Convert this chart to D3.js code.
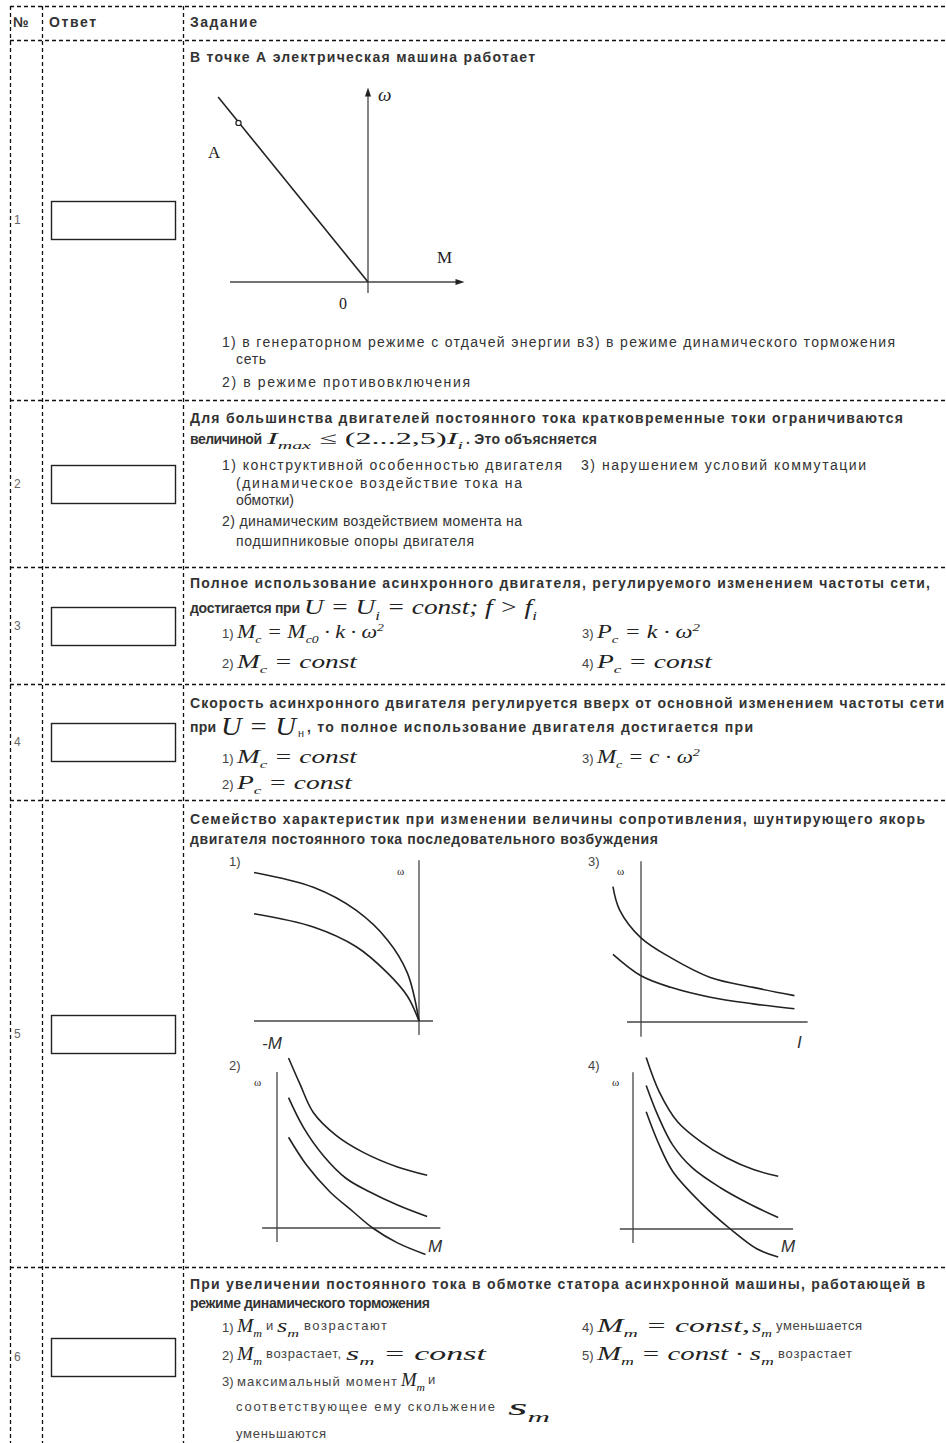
<!DOCTYPE html>
<html>
<head>
<meta charset="utf-8">
<script src="https://cdn.jsdelivr.net/npm/d3@7"></script>
<style>
body{margin:0;background:#fff;}
.t{font-family:"Liberation Sans",Arial,sans-serif;fill:#333;white-space:pre;}
.b{font-weight:bold;font-size:14px;}
.o{font-size:14px;}
.n{font-size:13px;fill:#444;}
.s{font-size:11px;}
.num{font-size:12px;fill:#666;}
.m{font-family:"Liberation Serif","Times New Roman",serif;font-style:italic;fill:#222;white-space:pre;}
.dash{stroke:#111;stroke-width:1.3;stroke-dasharray:4,3;fill:none;}
.ax{stroke:#444;stroke-width:1.3;fill:none;}
.cv{stroke:#222;stroke-width:1.6;fill:none;}
</style>
</head>
<body>
<svg id="c" width="946" height="1443"></svg>
<script>
var W = 946, H = 1443;

// table
var rowNums = [1, 2, 3, 4, 5, 6];
var rowLines = [40, 400, 567, 684, 800, 1267, 1447]; // bottom edge of header and each row
var colLines = [10.5, 42.5, 183.5];

// question 1: straight characteristic through the origin, point A on it
var q1Line = [[-8.1, 10], [0, 0]];
var q1A = [[-7.0, 8.6]];

// question 5: four families of characteristics (horizontal: M or I, vertical: omega)
var p1Curves = [
  [[-10, 9.0], [-6.4, 8.1], [-3.8, 6.7], [-1.9, 4.9], [-0.7, 2.9], [0, 0]],
  [[-10, 6.5], [-6.4, 5.7], [-3.8, 4.5], [-1.9, 2.9], [-0.7, 1.5], [0, 0]]
];
var p3Curves = [
  [[-1.7, 8.2], [-1.3, 6.8], [0, 5.1], [1.8, 3.9], [4.2, 2.7], [6.8, 2.1], [9.3, 1.6]],
  [[-1.7, 4.1], [0, 2.8], [1.8, 2.1], [4.2, 1.5], [6.8, 1.1], [9.3, 0.8]]
];
var p2Curves = [
  [[0.7, 10.3], [1.4, 8.7], [2.2, 7.0], [3.6, 5.6], [5.2, 4.6], [7.3, 3.7], [9.1, 3.2]],
  [[0.7, 7.9], [1.6, 6.1], [2.8, 4.4], [4.2, 3.0], [5.6, 2.2], [7.3, 1.4], [9.1, 0.7]],
  [[0.7, 5.5], [1.8, 3.8], [3.2, 2.2], [4.6, 1.0], [5.8, 0], [7.3, -0.9], [9.0, -1.6]]
];
var p4Curves = [
  [[0.8, 10.4], [1.6, 8.3], [2.7, 6.5], [4.1, 5.3], [5.7, 4.3], [7.3, 3.6], [8.8, 3.2]],
  [[0.8, 8.7], [1.5, 6.9], [2.4, 5.1], [3.6, 3.7], [5.3, 2.5], [7.1, 1.5], [8.8, 0.7]],
  [[0.8, 7.1], [1.5, 5.3], [2.4, 3.5], [4.1, 1.6], [5.9, 0], [7.5, -1.2], [8.8, -1.7]]
];

var svg = d3.select("#c");

// dashed grid
colLines.forEach(function(x){
  svg.append("line").attr("class","dash").attr("x1",x).attr("x2",x).attr("y1",6).attr("y2",H);
});
[6].concat(rowLines.slice(0, 6)).forEach(function(y){
  svg.append("line").attr("class","dash").attr("x1",10).attr("x2",W).attr("y1",y+0.5).attr("y2",y+0.5);
});

// row numbers + answer boxes
rowNums.forEach(function(n, i){
  var cy = (rowLines[i] + rowLines[i+1]) / 2;
  svg.append("text").attr("class","t num").attr("x",14).attr("y",cy+4).text(n);
  svg.append("rect").attr("x",51.5).attr("y",Math.round(cy-19)+0.5).attr("width",124).attr("height",38)
    .attr("fill","#fff").attr("stroke","#222").attr("stroke-width",1.4);
});

// math text: _{sub} ^{sup} [upright]
function mathText(x, y, src, size, w) {
  var g = svg.append("g").attr("transform","translate("+x+","+y+")");
  var t = g.append("text").attr("class","m").attr("font-size",size);
  var re = /([_^])\{([^}]*)\}|\[([^\]]*)\]|([^_^\[]+)/g, m, cur = 0;
  while ((m = re.exec(src))) {
    if (m[1]) {
      var d = m[1] === "_" ? size*0.28 : -size*0.42;
      t.append("tspan").attr("dy",d-cur).attr("font-size",size*0.62).text(m[2]);
      cur = d;
    } else {
      var ts = t.append("tspan").attr("dy",-cur).text(m[3] || m[4]);
      if (m[3]) ts.style("font-style","normal");
      cur = 0;
    }
  }
  if (w) {
    var bw = t.node().getComputedTextLength();
    g.attr("transform","translate("+x+","+y+") scale("+(w/bw)+",1)");
  }
}

function put(s) {
  var kind = s[0], x = s[1], y = s[2], str = s[3], w = s[4];
  if (kind === "m") return mathText(x, y + s[5]*0.3, str, s[5], w);
  var t = svg.append("text").attr("class","t "+kind).attr("x",x).attr("y",y+5).text(str);
  if (w) t.attr("textLength",w).attr("lengthAdjust","spacing");
}

var texts = [
  ["b",13,22,"№"], ["b",49,22,"Ответ",47], ["b",190,22,"Задание",67],
  // 1
  ["b",190,57,"В точке А электрическая машина работает",345],
  ["o",222,342,"1) в генераторном режиме с отдачей энергии в3) в режиме динамического торможения",673],
  ["o",236,359,"сеть",30],
  ["o",222,382,"2) в режиме противовключения",248],
  // 2
  ["b",190,418,"Для большинства двигателей постоянного тока кратковременные токи ограничиваются",713],
  ["b",190,439,"величиной",72],
  ["m",267,439,"I_{max} ≤ [(2...2,5)]I_{i}",196,17],
  ["b",466,439,". Это объясняется",131],
  ["o",222,465,"1) конструктивной особенностью двигателя",340],
  ["o",581,465,"3) нарушением условий коммутации",285],
  ["o",236,483,"(динамическое воздействие тока на",286],
  ["o",236,500,"обмотки)",58],
  ["o",222,521,"2) динамическим воздействием момента на",300],
  ["o",236,541,"подшипниковые опоры двигателя",238],
  // 3
  ["b",190,583,"Полное использование асинхронного двигателя, регулируемого изменением частоты сети,",740],
  ["b",190,608,"достигается при",110],
  ["m",304,608,"U = U_{i} = const; f > f_{i}",233,20],
  ["n",222,633,"1)"], ["m",237,633,"M_{c} = M_{c0} · k · ω^{2}",147,18],
  ["n",582,633,"3)"], ["m",597,633,"P_{c} = k · ω^{2}",103,18],
  ["n",222,663,"2)"], ["m",237,663,"M_{c} = const",120,18],
  ["n",582,663,"4)"], ["m",597,663,"P_{c} = const",115,18],
  // 4
  ["b",190,703,"Скорость асинхронного двигателя регулируется вверх от основной изменением частоты сети",754],
  ["b",190,727,"при",26],
  ["m",221,727,"U = U",75,25],
  ["s",298,732,"н"],
  ["b",307,727,", то полное использование двигателя достигается при",446],
  ["n",222,758,"1)"], ["m",237,758,"M_{c} = const",120,18],
  ["n",582,758,"3)"], ["m",597,758,"M_{c} = c · ω^{2}",103,18],
  ["n",222,784,"2)"], ["m",237,784,"P_{c} = const",115,18],
  // 5
  ["b",190,819,"Семейство характеристик при изменении величины сопротивления, шунтирующего якорь",735],
  ["b",190,839,"двигателя постоянного тока последовательного возбуждения",468],
  // 6
  ["b",190,1284,"При увеличении постоянного тока в обмотке статора асинхронной машины, работающей в",735],
  ["b",190,1303,"режиме динамического торможения",240],
  ["n",222,1327,"1)"], ["m",237,1327,"M_{m}",25,18], ["n",266,1325,"и"], ["m",277,1327,"s_{m}",22,18], ["n",304,1325,"возрастают",83],
  ["n",582,1327,"4)"], ["m",597,1327,"M_{m} = const,",153,18], ["m",752,1327,"s_{m}",20,18], ["n",776,1325,"уменьшается",86],
  ["n",222,1355,"2)"], ["m",237,1355,"M_{m}",25,18], ["n",266,1353,"возрастает,",75], ["m",346,1355,"s_{m} = const",140,18],
  ["n",582,1355,"5)"], ["m",597,1355,"M_{m} = const · s_{m}",177,18], ["n",778,1353,"возрастает",74],
  ["n",222,1381,"3)"], ["n",237,1381,"максимальный момент",160], ["m",401,1381,"M_{m}",24,18], ["n",428,1379,"и"],
  ["n",236,1406,"соответствующее ему скольжение",259], ["m",508,1408,"s_{m}",42,24],
  ["n",236,1433,"уменьшаются",90]
];
texts.forEach(put);

// question 1 chart
var x1 = d3.scaleLinear().domain([0, 1]).range([368, 386.5]);
var y1 = d3.scaleLinear().domain([0, 1]).range([282, 263.5]);
svg.append("line").attr("class","ax").attr("x1",x1(-7.46)).attr("x2",x1(5.0)).attr("y1",y1(0)).attr("y2",y1(0));
svg.append("line").attr("class","ax").attr("x1",x1(0)).attr("x2",x1(0)).attr("y1",y1(-0.6)).attr("y2",y1(10.3));
svg.append("path").attr("fill","#222").attr("d","M"+x1(0)+","+(y1(10.3)-4)+"l-3,9h6z");
svg.append("path").attr("fill","#222").attr("d","M"+(x1(5.0)+4)+","+y1(0)+"l-9,-3v6z");
svg.append("path").attr("class","cv").attr("d", d3.line().x(function(d){return x1(d[0]);}).y(function(d){return y1(d[1]);})(q1Line));
svg.selectAll("circle.pa").data(q1A).enter().append("circle").attr("class","pa")
  .attr("cx",function(d){return x1(d[0]);}).attr("cy",function(d){return y1(d[1]);})
  .attr("r",2.6).attr("fill","#fff").attr("stroke","#222").attr("stroke-width",1.2);
svg.append("text").attr("class","m").attr("font-size",19).attr("x",378).attr("y",101).text("ω");
svg.append("text").attr("class","m").style("font-style","normal").attr("font-size",17).attr("x",208).attr("y",158).text("A");
svg.append("text").attr("class","m").style("font-style","normal").attr("font-size",17).attr("x",437).attr("y",263).text("M");
svg.append("text").attr("class","m").style("font-style","normal").attr("font-size",16).attr("x",339).attr("y",309).text("0");

// question 5 panels
var unit = 16.5;
var panels = [
  {lab:"1)", curves:p1Curves, ox:419, oy:1021, xAxis:[-10, 0.85], yAxis:[-0.85, 9.75], lx:229, ly:866, wx:397, wy:875, ax:"-M", axx:262, axy:1049},
  {lab:"3)", curves:p3Curves, ox:641, oy:1022, xAxis:[-0.85, 10.1], yAxis:[-0.9, 9.75], lx:588, ly:866, wx:617, wy:875, ax:"I", axx:797, axy:1048},
  {lab:"2)", curves:p2Curves, ox:277, oy:1228, xAxis:[-0.9, 9.9], yAxis:[-0.85, 9.45], lx:229, ly:1070, wx:254, wy:1086, ax:"M", axx:428, axy:1252},
  {lab:"4)", curves:p4Curves, ox:633, oy:1229, xAxis:[-0.8, 9.7], yAxis:[-0.85, 9.5], lx:588, ly:1070, wx:612, wy:1086, ax:"M", axx:781, axy:1252}
];
panels.forEach(function(p){
  var x = d3.scaleLinear().domain([0, 1]).range([p.ox, p.ox + unit]);
  var y = d3.scaleLinear().domain([0, 1]).range([p.oy, p.oy - unit]);
  var g = svg.append("g");
  g.append("line").attr("class","ax").attr("x1",x(p.xAxis[0])).attr("x2",x(p.xAxis[1])).attr("y1",y(0)).attr("y2",y(0));
  g.append("line").attr("class","ax").attr("x1",x(0)).attr("x2",x(0)).attr("y1",y(p.yAxis[0])).attr("y2",y(p.yAxis[1]));
  var line = d3.line().x(function(d){return x(d[0]);}).y(function(d){return y(d[1]);}).curve(d3.curveCatmullRom.alpha(0.5));
  g.selectAll("path.cv").data(p.curves).enter().append("path").attr("class","cv").attr("d", line);
  g.append("text").attr("class","t n").attr("x",p.lx).attr("y",p.ly).text(p.lab);
  g.append("text").attr("class","m").style("font-style","normal").attr("font-size",11).attr("x",p.wx).attr("y",p.wy).text("ω");
  g.append("text").attr("class","t").attr("font-size",17).style("font-style","italic").attr("x",p.axx).attr("y",p.axy).text(p.ax);
});
</script>
</body>
</html>
